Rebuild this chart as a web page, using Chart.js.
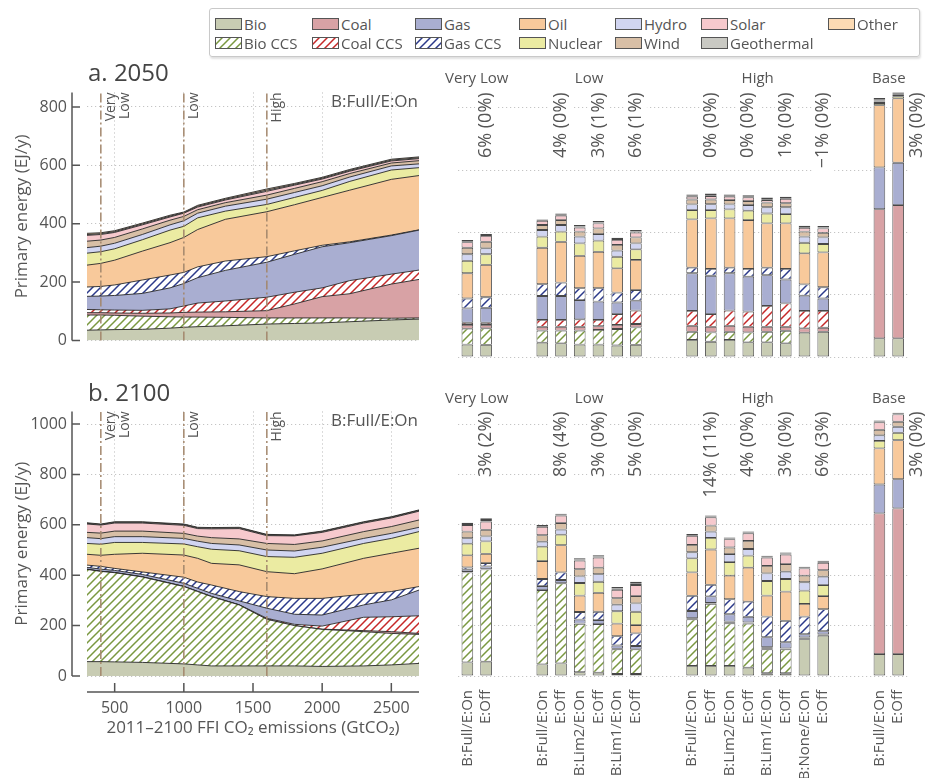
<!DOCTYPE html>
<html lang="en">
<head>
<meta charset="utf-8">
<title>Primary energy by source</title>
<script src="https://cdn.jsdelivr.net/npm/chart.js@4.4.1/dist/chart.umd.min.js"></script>
<style>
  html, body { margin: 0; background: #fff; }
  #fig { position: relative; width: 931px; height: 778px; font-family: "Open Sans", sans-serif; color: #555; }
  #fig > canvas { position: absolute; }
  #legend {
    position: absolute; left: 209px; top: 8px; width: 711px; height: 49px;
    box-sizing: border-box; border: 1px solid #c9c9c9; border-radius: 3px;
    box-shadow: 1px 2px 2px rgba(0, 0, 0, 0.12);
    display: grid; grid-template-columns: 97px 103px 104px 96px 86px 127px auto;
    grid-auto-rows: 19px; padding: 5px 0 0 5px;
  }
  .key { display: flex; align-items: center; font-size: 15px; white-space: nowrap; }
  .key canvas { margin-right: 2px; }
</style>
</head>
<body>
<div id="fig">
  <div id="legend"></div>
  <canvas id="area2050" width="440" height="310" style="left:0;top:60px"></canvas>
  <canvas id="bars2050" width="491" height="310" style="left:440px;top:60px"></canvas>
  <canvas id="area2100" width="440" height="408" style="left:0;top:370px"></canvas>
  <canvas id="bars2100" width="491" height="408" style="left:440px;top:370px"></canvas>
</div>
<script>
// stacking order, bottom to top
const sources = ['Bio', 'Bio CCS', 'Coal', 'Coal CCS', 'Gas', 'Gas CCS', 'Oil', 'Nuclear', 'Hydro', 'Wind', 'Solar', 'Geothermal', 'Other'];
const legendOrder = ['Bio', 'Coal', 'Gas', 'Oil', 'Hydro', 'Solar', 'Other', 'Bio CCS', 'Coal CCS', 'Gas CCS', 'Nuclear', 'Wind', 'Geothermal'];

const scenarioTag = 'B:Full/E:On';
const yTitle = 'Primary energy (EJ/y)';
const xTitle = '2011–2100 FFI CO₂ emissions (GtCO₂)';
const emissionTicks = [500, 1000, 1500, 2000, 2500];
const energyTicks50 = [0, 200, 400, 600, 800];
const energyTicks00 = [0, 200, 400, 600, 800, 1000];
const thresholds = [400, 1000, 1600];
const thresholdNames = [['Very', 'Low'], ['Low'], ['High']];
const groupNames = ['Very Low', 'Low', 'High', 'Base'];

// ---- a. 2050 pathway, EJ/y by cumulative emissions ----
const emis50 = [300, 400, 500, 700, 900, 1000, 1100, 1300, 1600, 1800, 2000, 2200, 2500, 2700];
const a50Bio     = [35, 36, 37, 38, 42, 45, 47, 50, 56, 58, 60, 64, 70, 73];
const a50BioCcs  = [52, 51, 49, 45, 39, 35, 33, 29, 21, 19, 17, 13, 6, 4];
const a50Coal    = [8, 8, 8, 10, 13, 16, 17, 19, 25, 48, 73, 83, 117, 132];
const a50CoalCcs = [11, 10, 10, 10, 14, 22, 31, 37, 46, 40, 30, 45, 34, 32];
const a50Gas     = [45, 47, 50, 58, 72, 77, 87, 105, 120, 130, 141, 130, 132, 137];
const a50GasCcs  = [32, 33, 36, 46, 44, 38, 37, 32, 19, 12, 5, 3, 2, 1];
const a50Oil     = [75, 79, 85, 99, 111, 120, 128, 143, 154, 158, 164, 177, 191, 186];
const a50Nuclear = [41, 40, 39, 39, 43, 38, 40, 28, 25, 25, 24, 30, 32, 27];
const a50Hydro   = [19, 19, 19, 18, 18, 19, 16, 17, 18, 17, 16, 15, 14, 13];
const a50Wind    = [22, 21, 20, 19, 16, 15, 12, 12, 14, 14, 14, 12, 10, 11];
const a50Solar   = [20, 19, 17, 14, 11, 11, 9, 9, 13, 11, 9, 8, 7, 7];
const a50Geo     = [3, 3, 3, 3, 3, 2, 3, 3, 4, 3, 3, 3, 3, 3];
const a50Other   = [4, 3, 3, 3, 3, 2, 3, 3, 4, 3, 3, 3, 3, 3];

// ---- b. 2100 pathway ----
const emis00 = [300, 400, 500, 700, 1000, 1100, 1200, 1400, 1600, 1800, 2000, 2300, 2500, 2700];
const a00Bio     = [57, 57, 56, 54, 48, 44, 40, 40, 40, 40, 38, 40, 44, 50];
const a00BioCcs  = [366, 358, 354, 339, 307, 291, 275, 242, 185, 160, 147, 136, 125, 115];
const a00Coal    = [0, 0, 0, 0, 0, 0, 0, 0, 0, 0, 1, 4, 7, 4];
const a00CoalCcs = [1, 1, 1, 1, 1, 1, 1, 1, 4, 5, 12, 53, 59, 70];
const a00Gas     = [7, 8, 8, 9, 12, 12, 12, 15, 40, 40, 44, 49, 67, 102];
const a00GasCcs  = [9, 11, 8, 10, 24, 25, 33, 37, 46, 63, 66, 43, 33, 14];
const a00Oil     = [43, 44, 56, 74, 88, 94, 86, 106, 99, 98, 117, 142, 152, 152];
const a00Nuclear = [43, 44, 47, 43, 44, 46, 56, 56, 60, 65, 62, 59, 59, 66];
const a00Hydro   = [23, 22, 23, 23, 22, 22, 23, 23, 26, 25, 24, 20, 20, 17];
const a00Wind    = [21, 22, 22, 22, 20, 20, 23, 24, 26, 26, 25, 27, 27, 29];
const a00Solar   = [33, 32, 32, 32, 32, 30, 35, 41, 31, 34, 34, 34, 34, 35];
const a00Geo     = [3, 2, 3, 3, 3, 3, 3, 3, 3, 2, 3, 3, 3, 3];
const a00Other   = [2, 2, 2, 2, 2, 2, 2, 2, 2, 2, 2, 2, 2, 2];

// ---- scenario bars; empty labels are spacer slots ----
const barLabels = ['B:Full/E:On', 'E:Off', '', '',
  'B:Full/E:On', 'E:Off', 'B:Lim2/E:On', 'E:Off', 'B:Lim1/E:On', 'E:Off', '', '',
  'B:Full/E:On', 'E:Off', 'B:Lim2/E:On', 'E:Off', 'B:Lim1/E:On', 'E:Off', 'B:None/E:On', 'E:Off', '', '',
  'B:Full/E:On', 'E:Off'];
const n = null;

const b50Bio     = [40, 39, n, n, 46, 44, 40, 40, 37, 39, n, n, 55, 49, 55, 47, 47, 44, 78, 81, n, n, 60, 60];
const b50BioCcs  = [51, 53, n, n, 39, 41, 45, 47, 53, 56, n, n, 26, 30, 26, 32, 34, 40, 0, 0, n, n, 0, 0];
const b50Coal    = [12, 11, n, n, 12, 12, 12, 12, 13, 11, n, n, 19, 18, 19, 18, 16, 13, 14, 13, n, n, 415, 428];
const b50CoalCcs = [7, 7, n, n, 22, 22, 24, 20, 35, 43, n, n, 48, 41, 49, 49, 67, 75, 56, 54, n, n, 0, 0];
const b50Gas     = [46, 48, n, n, 77, 77, 62, 59, 37, 32, n, n, 121, 123, 120, 112, 99, 77, 49, 40, n, n, 134, 136];
const b50GasCcs  = [32, 34, n, n, 38, 43, 38, 43, 32, 34, n, n, 18, 22, 18, 25, 24, 34, 36, 36, n, n, 0, 0];
const b50Oil     = [81, 104, n, n, 117, 131, 104, 117, 78, 97, n, n, 155, 162, 158, 157, 142, 146, 100, 112, n, n, 200, 207];
const b50Nuclear = [40, 34, n, n, 36, 33, 40, 36, 37, 34, n, n, 30, 27, 29, 30, 32, 30, 34, 27, n, n, 7, 7];
const b50Hydro   = [21, 19, n, n, 21, 21, 22, 21, 20, 19, n, n, 18, 19, 16, 18, 20, 22, 20, 21, n, n, 5, 4];
const b50Wind    = [21, 21, n, n, 16, 16, 16, 18, 18, 19, n, n, 16, 15, 14, 13, 15, 13, 16, 15, n, n, 3, 2];
const b50Solar   = [18, 19, n, n, 13, 14, 13, 16, 16, 16, n, n, 9, 11, 11, 12, 8, 14, 12, 14, n, n, 2, 2];
const b50Geo     = [3, 3, n, n, 2, 3, 3, 3, 3, 3, n, n, 3, 3, 3, 3, 3, 3, 3, 3, n, n, 3, 3];
const b50Other   = [4, 3, n, n, 3, 4, 5, 5, 4, 5, n, n, 4, 5, 4, 4, 5, 4, 4, 5, n, n, 3, 3];

const b00Bio     = [54, 57, n, n, 46, 50, 15, 13, 8, 8, n, n, 40, 40, 40, 33, 11, 11, 146, 160, n, n, 87, 87];
const b00BioCcs  = [357, 366, n, n, 295, 318, 192, 193, 98, 98, n, n, 185, 246, 169, 175, 95, 95, 0, 0, n, n, 0, 0];
const b00Coal    = [1, 0, n, n, 0, 0, 0, 0, 1, 0, n, n, 2, 2, 4, 3, 4, 2, 4, 3, n, n, 558, 578];
const b00CoalCcs = [1, 1, n, n, 0, 0, 1, 0, 1, 0, n, n, 3, 2, 3, 2, 4, 2, 3, 2, n, n, 0, 0];
const b00Gas     = [9, 11, n, n, 16, 13, 16, 16, 13, 13, n, n, 28, 26, 29, 22, 40, 24, 13, 13, n, n, 115, 116];
const b00GasCcs  = [9, 13, n, n, 28, 30, 30, 33, 37, 50, n, n, 60, 46, 60, 60, 82, 85, 70, 87, n, n, 0, 0];
const b00Oil     = [48, 37, n, n, 71, 108, 65, 75, 50, 33, n, n, 93, 140, 93, 135, 83, 116, 50, 52, n, n, 143, 155];
const b00Nuclear = [46, 49, n, n, 57, 42, 50, 44, 49, 53, n, n, 56, 46, 54, 48, 58, 50, 53, 44, n, n, 30, 29];
const b00Hydro   = [22, 20, n, n, 20, 20, 26, 30, 26, 33, n, n, 24, 25, 32, 26, 30, 29, 33, 33, n, n, 22, 24];
const b00Wind    = [26, 26, n, n, 26, 26, 29, 26, 26, 29, n, n, 29, 24, 26, 32, 30, 30, 26, 26, n, n, 22, 20];
const b00Solar   = [26, 33, n, n, 33, 30, 34, 40, 33, 44, n, n, 36, 33, 33, 30, 33, 38, 29, 29, n, n, 30, 29];
const b00Geo     = [4, 6, n, n, 3, 3, 4, 4, 5, 5, n, n, 3, 3, 3, 3, 3, 4, 3, 4, n, n, 3, 3];
const b00Other   = [5, 7, n, n, 4, 4, 5, 5, 6, 8, n, n, 4, 4, 4, 4, 4, 4, 4, 4, n, n, 4, 4];

// change vs. reference run, shown above the second bar of each pair
const pct50 = ['', '6% (0%)', '', '', '', '4% (0%)', '', '3% (1%)', '', '6% (1%)', '', '',
  '', '0% (0%)', '', '0% (0%)', '', '1% (0%)', '', '−1% (0%)', '', '', '', '3% (0%)'];
const pct00 = ['', '3% (2%)', '', '', '', '8% (4%)', '', '3% (0%)', '', '5% (0%)', '', '',
  '', '14% (11%)', '', '4% (0%)', '', '3% (0%)', '', '6% (3%)', '', '', '', '3% (0%)'];

// ---- styling ----
const FONT = '"Open Sans", sans-serif';
const textInk = '#555';
const axisInk = '#555';
const gridInk = '#c4c4c4';
const solidColors = {
  Bio: '#c8ccb3', Coal: '#d8a2a5', Gas: '#a9aed1', Oil: '#f8c99b', Nuclear: '#ebeba2',
  Hydro: '#d1d5f1', Wind: '#d8bfa6', Solar: '#f6c9cd', Geothermal: '#c9c9c3', Other: '#fcdbb4',
};
const hatchColors = { 'Bio CCS': '#7a9840', 'Coal CCS': '#c62828', 'Gas CCS': '#2c3a8a' };

function hatch(ctx, color) {
  const tile = document.createElement('canvas');
  tile.width = 8;
  tile.height = 8;
  const g = tile.getContext('2d');
  g.fillStyle = '#fff';
  g.fillRect(0, 0, 8, 8);
  g.strokeStyle = color;
  g.lineWidth = 1.5;
  g.beginPath();
  g.moveTo(-1, 9); g.lineTo(9, -1);
  g.moveTo(-1, 1); g.lineTo(1, -1);
  g.moveTo(7, 9); g.lineTo(9, 7);
  g.stroke();
  return ctx.createPattern(tile, 'repeat');
}

function fillFor(ctx, name) {
  return hatchColors[name] ? hatch(ctx, hatchColors[name]) : solidColors[name];
}

function rotatedText(ctx, text, x, y) {
  ctx.save();
  ctx.translate(x, y);
  ctx.rotate(-Math.PI / 2);
  ctx.textAlign = 'right';
  ctx.textBaseline = 'middle';
  ctx.fillText(text, 0, 0);
  ctx.restore();
}

// runs of consecutive non-empty bar labels = scenario groups
function barGroups() {
  const runs = [];
  barLabels.forEach((l, i) => {
    if (!l) return;
    const last = runs[runs.length - 1];
    if (last && last[1] === i - 1) last[1] = i;
    else runs.push([i, i]);
  });
  return runs;
}

const areaDecor = {
  id: 'areaDecor',
  afterDatasetsDraw(chart, args, o) {
    const { ctx, chartArea: ca, scales: { x, y } } = chart;
    const y0 = y.getPixelForValue(0);
    ctx.save();

    // detached value axis, ticks pointing in
    ctx.strokeStyle = axisInk;
    ctx.lineWidth = 1.5;
    const ax = ca.left - 15;
    ctx.beginPath();
    ctx.moveTo(ax, y0);
    ctx.lineTo(ax, ca.top);
    y.ticks.forEach(t => {
      const py = y.getPixelForValue(t.value);
      ctx.moveTo(ax, py);
      ctx.lineTo(ax + 8, py);
    });
    if (o.xAxis) {
      const ay = y0 + 16;
      ctx.moveTo(ca.left, ay);
      ctx.lineTo(ca.right, ay);
      x.ticks.forEach(t => {
        const px = x.getPixelForValue(t.value);
        ctx.moveTo(px, ay);
        ctx.lineTo(px, ay - 9);
      });
    }
    ctx.stroke();

    // budget category boundaries
    ctx.strokeStyle = '#a3876d';
    ctx.lineWidth = 1.5;
    ctx.setLineDash([9, 3, 2, 3]);
    thresholds.forEach(v => {
      const px = x.getPixelForValue(v);
      ctx.beginPath();
      ctx.moveTo(px, y0);
      ctx.lineTo(px, ca.top);
      ctx.stroke();
    });
    ctx.setLineDash([]);
    ctx.fillStyle = textInk;
    ctx.font = '14px ' + FONT;
    thresholds.forEach((v, i) => {
      const px = x.getPixelForValue(v);
      thresholdNames[i].forEach((t, j) => rotatedText(ctx, t, px + 10 + j * 14, ca.top));
    });

    // panel title and scenario tag
    ctx.textBaseline = 'alphabetic';
    ctx.textAlign = 'left';
    ctx.fillStyle = '#444';
    ctx.font = '24px ' + FONT;
    ctx.fillText(o.title, ca.left + 1, o.titleBase);
    ctx.textAlign = 'right';
    ctx.fillStyle = textInk;
    ctx.font = '17px ' + FONT;
    ctx.fillText(scenarioTag, ca.right - 1, ca.top + 15);
    ctx.restore();
  },
};

const barDecor = {
  id: 'barDecor',
  afterDatasetsDraw(chart, args, o) {
    const { ctx, chartArea: ca, scales: { x, y } } = chart;
    const slot = x.getPixelForValue(1) - x.getPixelForValue(0);
    ctx.save();
    ctx.fillStyle = textInk;
    ctx.font = '15px ' + FONT;
    ctx.textAlign = 'center';
    ctx.textBaseline = 'alphabetic';
    barGroups().forEach((g, i) => {
      const cx = (x.getPixelForValue(g[0]) + x.getPixelForValue(g[1])) / 2;
      ctx.fillText(groupNames[i], cx, o.groupBase);
    });

    ctx.font = '18px ' + FONT;
    o.pct.forEach((t, i) => {
      if (!t) return;
      const w = ctx.measureText(t).width;
      const total = chart.data.datasets.reduce((s, d) => s + (d.data[i] || 0), 0);
      let px = x.getPixelForValue(i);
      // tall bars push their label one slot to the right
      if (y.getPixelForValue(total) < ca.top + w + 4) px += slot;
      ctx.fillStyle = '#fff';
      ctx.fillRect(px - 11, ca.top - 2, 22, w + 6);
      ctx.fillStyle = textInk;
      rotatedText(ctx, t, px, ca.top);
    });
    ctx.restore();
  },
};

const plainNumber = v => String(v);

function areaChart(id, xs, layers, yMax, yTicks, o) {
  const canvas = document.getElementById(id);
  const ctx = canvas.getContext('2d');
  return new Chart(canvas, {
    type: 'line',
    data: {
      datasets: sources.map((name, i) => ({
        label: name,
        data: xs.map((x, k) => ({ x, y: layers[i][k] })),
        fill: i === 0 ? 'origin' : '-1',
        backgroundColor: fillFor(ctx, name),
        borderColor: '#262626',
        borderWidth: 0.9,
        pointRadius: 0,
        tension: 0,
      })),
    },
    options: {
      responsive: false,
      animation: false,
      layout: { padding: { left: 0, right: 21, top: o.top, bottom: o.bottom } },
      plugins: { legend: { display: false }, tooltip: { enabled: false }, areaDecor: o },
      scales: {
        x: {
          type: 'linear',
          min: 300,
          max: 2700,
          afterBuildTicks: s => { s.ticks = emissionTicks.map(v => ({ value: v })); },
          afterFit: s => { s.height = o.xHeight; },
          grid: { color: gridInk, drawTicks: false },
          border: { display: false, dash: [1.2, 2.8] },
          ticks: { display: o.xAxis, callback: plainNumber, color: textInk, font: { size: 16, family: FONT }, padding: 23, maxRotation: 0 },
          title: { display: o.xAxis, text: xTitle, color: textInk, font: { size: 17, family: FONT }, padding: 0 },
        },
        y: {
          stacked: true,
          min: 0,
          max: yMax,
          afterBuildTicks: s => { s.ticks = yTicks.map(v => ({ value: v })); },
          afterFit: s => { s.width = 87; },
          grid: { color: gridInk, drawTicks: false },
          border: { display: false, dash: [1.2, 2.8] },
          ticks: { callback: plainNumber, color: textInk, font: { size: 16, family: FONT }, padding: 20 },
          title: { display: true, text: yTitle, color: textInk, font: { size: 17, family: FONT }, padding: { top: 12, bottom: 0 } },
        },
      },
    },
    plugins: [areaDecor],
  });
}

function barChart(id, layers, yMax, yTicks, o) {
  const canvas = document.getElementById(id);
  const ctx = canvas.getContext('2d');
  return new Chart(canvas, {
    type: 'bar',
    data: {
      labels: barLabels,
      datasets: sources.map((name, i) => ({
        label: name,
        data: layers[i],
        backgroundColor: fillFor(ctx, name),
        borderColor: '#474747',
        // absent layers get no outline
        borderWidth: c => (c.raw ? 0.9 : 0),
        borderSkipped: false,
        barPercentage: 0.62,
        categoryPercentage: 1,
      })),
    },
    options: {
      responsive: false,
      animation: false,
      layout: { padding: { left: 18, right: 23.5, top: o.top, bottom: o.bottom } },
      plugins: { legend: { display: false }, tooltip: { enabled: false }, barDecor: o },
      scales: {
        x: {
          stacked: true,
          grid: { display: false },
          border: { display: false },
          afterFit: s => { s.height = o.xHeight; },
          ticks: {
            display: o.showLabels, autoSkip: false, minRotation: 90, maxRotation: 90, padding: 6,
            color: textInk, font: { size: 15, family: FONT },
          },
        },
        y: {
          stacked: true,
          min: 0,
          max: yMax,
          afterBuildTicks: s => { s.ticks = yTicks.map(v => ({ value: v })); },
          afterFit: s => { s.width = 0; },
          grid: { color: gridInk, drawTicks: false },
          border: { display: false, dash: [1.2, 2.8] },
          ticks: { display: false },
        },
      },
    },
    plugins: [barDecor],
  });
}

const area50 = [a50Bio, a50BioCcs, a50Coal, a50CoalCcs, a50Gas, a50GasCcs, a50Oil, a50Nuclear, a50Hydro, a50Wind, a50Solar, a50Geo, a50Other];
const area00 = [a00Bio, a00BioCcs, a00Coal, a00CoalCcs, a00Gas, a00GasCcs, a00Oil, a00Nuclear, a00Hydro, a00Wind, a00Solar, a00Geo, a00Other];
const bars50 = [b50Bio, b50BioCcs, b50Coal, b50CoalCcs, b50Gas, b50GasCcs, b50Oil, b50Nuclear, b50Hydro, b50Wind, b50Solar, b50Geo, b50Other];
const bars00 = [b00Bio, b00BioCcs, b00Coal, b00CoalCcs, b00Gas, b00GasCcs, b00Oil, b00Nuclear, b00Hydro, b00Wind, b00Solar, b00Geo, b00Other];

areaChart('area2050', emis50, area50, 850, energyTicks50,
  { title: 'a. 2050', titleBase: 21, top: 32.4, bottom: 13, xHeight: 0, xAxis: false });
areaChart('area2100', emis00, area00, 1050, energyTicks00,
  { title: 'b. 2100', titleBase: 31, top: 41.4, bottom: 40, xHeight: 62, xAxis: true });
barChart('bars2050', bars50, 850, energyTicks50,
  { pct: pct50, groupBase: 23, top: 32.4, bottom: 13, xHeight: 0, showLabels: false });
barChart('bars2100', bars00, 1050, energyTicks00,
  { pct: pct00, groupBase: 33, top: 41.4, bottom: 0, xHeight: 102, showLabels: true });

// legend, two rows in column order
const legend = document.getElementById('legend');
legendOrder.forEach(name => {
  const key = document.createElement('div');
  key.className = 'key';
  const sw = document.createElement('canvas');
  sw.width = 27;
  sw.height = 12;
  const g = sw.getContext('2d');
  g.fillStyle = fillFor(g, name);
  g.fillRect(0, 0, 27, 12);
  g.strokeStyle = '#555';
  g.lineWidth = 1;
  g.strokeRect(0.5, 0.5, 26, 11);
  key.appendChild(sw);
  key.appendChild(document.createTextNode(name));
  legend.appendChild(key);
});
</script>
</body>
</html>
